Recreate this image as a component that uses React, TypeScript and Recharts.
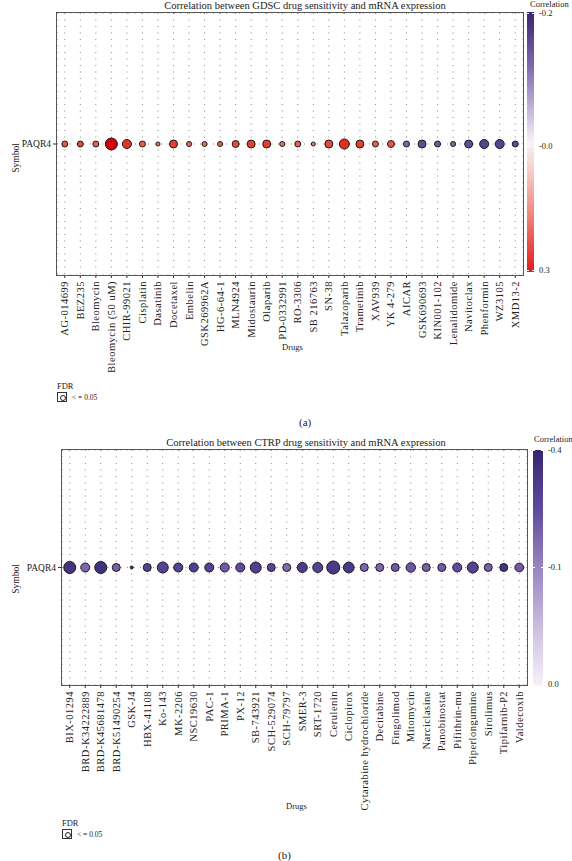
import React from 'react';
import { ScatterChart, Scatter, XAxis, YAxis, ZAxis, CartesianGrid, Cell } from 'recharts';

const gene = 'PAQR4';

// GDSC panel
const gdscDrugs = [
  'AG-014699', 'BEZ235', 'Bleomycin', 'Bleomycin (50 uM)', 'CHIR-99021', 'Cisplatin', 'Dasatinib',
  'Docetaxel', 'Embelin', 'GSK269962A', 'HG-6-64-1', 'MLN4924', 'Midostaurin', 'Olaparib',
  'PD-0332991', 'RO-3306', 'SB 216763', 'SN-38', 'Talazoparib', 'Trametinib', 'XAV939', 'YK 4-279',
  'AICAR', 'GSK690693', 'KIN001-102', 'Lenalidomide', 'Navitoclax', 'Phenformin', 'WZ3105', 'XMD13-2',
];
const gdscCor = [
  0.21, 0.22, 0.2, 0.3, 0.24, 0.2, 0.18, 0.23, 0.19, 0.19, 0.2, 0.22, 0.23, 0.23, 0.19,
  0.2, 0.18, 0.22, 0.25, 0.23, 0.2, 0.21, -0.14, -0.16, -0.15, -0.14, -0.16, -0.17, -0.17, -0.16,
];
const gdscLogFdr = [
  2.8, 2.8, 2.8, 11.3, 6.4, 2.8, 1.3, 5.0, 2.0, 2.0, 2.0, 3.8, 5.0, 5.0, 2.0,
  2.8, 1.3, 5.0, 7.9, 5.0, 2.8, 3.8, 2.8, 5.0, 2.8, 2.0, 5.0, 6.4, 6.4, 2.8,
];

// CTRP panel
const ctrpDrugs = [
  'BIX-01294', 'BRD-K34222889', 'BRD-K45681478', 'BRD-K51490254', 'GSK-J4', 'HBX-41108', 'Ko-143',
  'MK-2206', 'NSC19630', 'PAC-1', 'PRIMA-1', 'PX-12', 'SB-743921', 'SCH-529074', 'SCH-79797',
  'SMER-3', 'SRT-1720', 'Cerulenin', 'Ciclopirox', 'Cytarabine hydrochloride', 'Decitabine',
  'Fingolimod', 'Mitomycin', 'Narciclasine', 'Panobinostat', 'Pifithrin-mu', 'Piperlongumine',
  'Sirolimus', 'Tipifarnib-P2', 'Valdecoxib',
];
const ctrpCor = [
  -0.37, -0.26, -0.38, -0.27, -0.4, -0.33, -0.33, -0.33, -0.34, -0.33, -0.28, -0.31, -0.34, -0.32, -0.25,
  -0.35, -0.33, -0.36, -0.36, -0.26, -0.26, -0.28, -0.29, -0.27, -0.28, -0.31, -0.33, -0.27, -0.37, -0.28,
];
const ctrpLogFdr = [
  11.3, 6.4, 11.3, 5.0, 0.7, 5.0, 9.5, 6.4, 6.4, 6.4, 6.4, 6.4, 9.5, 5.0, 5.0,
  7.9, 7.9, 13.3, 9.0, 5.0, 5.0, 5.0, 7.0, 5.0, 5.0, 6.4, 9.5, 5.0, 5.0, 6.0,
];

type Stop = [number, number[]];
const hex = (h: string) => [1, 3, 5].map((i) => parseInt(h.slice(i, i + 2), 16));
const ramp = (stops: Stop[], t: number) => {
  t = Math.max(0, Math.min(1, t));
  for (let i = 1; i < stops.length; i++) {
    const [t1, c1] = stops[i];
    const [t0, c0] = stops[i - 1];
    if (t <= t1) {
      const k = (t - t0) / (t1 - t0);
      const c = c0.map((v, j) => Math.round(v + (c1[j] - v) * k));
      return `rgb(${c[0]},${c[1]},${c[2]})`;
    }
  }
  const c = stops[stops.length - 1][1];
  return `rgb(${c[0]},${c[1]},${c[2]})`;
};

const redStops: Stop[] = [[0, hex('#ffffff')], [0.5, hex('#f19a84')], [0.75, hex('#e6452f')], [1, hex('#d2000a')]];
const purpleStopsA: Stop[] = [[0, hex('#ffffff')], [0.5, hex('#b3a4d0')], [0.8, hex('#5f4d9c')], [1, hex('#3a2a76')]];
const purpleStopsB: Stop[] = [[0, hex('#f6f2f8')], [0.35, hex('#b9a7d4')], [0.6, hex('#8a70b6')], [0.8, hex('#5a4599')], [1, hex('#3a2a76')]];

const colorA = (c: number) => (c >= 0 ? ramp(redStops, c / 0.3) : ramp(purpleStopsA, -c / 0.2));
const colorB = (c: number) => ramp(purpleStopsB, -c / 0.4);

const FONT = '"Liberation Serif", serif';
const txt: React.CSSProperties = { position: 'absolute', fontFamily: FONT, color: '#222', whiteSpace: 'nowrap', lineHeight: 1 };

// palatino-ish width: slightly larger Times with a bit of tracking
const XTick = (props: any) => {
  const { x, y, payload } = props;
  return (
    <g transform={`translate(${x},${y})`}>
      <text
        x={0}
        y={0}
        dx={-2}
        dy={3.5}
        transform="rotate(-90)"
        textAnchor="end"
        fontSize={10.5}
        letterSpacing={0.5}
        fontFamily={FONT}
        fill="#222"
      >
        {payload.value}
      </text>
    </g>
  );
};

type PanelProps = {
  top: number;
  drugs: string[];
  cor: number[];
  logFdr: number[];
  color: (c: number) => string;
  plotLeft: number;
  plotRight: number;
  plotTop: number;
  plotHeight: number;
  xAxisHeight: number;
};

const DotPanel = ({ top, drugs, cor, logFdr, color, plotLeft, plotRight, plotTop, plotHeight, xAxisHeight }: PanelProps) => {
  const rows = drugs.map((d, i) => ({ drug: d, symbol: gene, cor: cor[i], fdr: logFdr[i] }));
  const height = plotTop + plotHeight + xAxisHeight;
  return (
    <div style={{ position: 'absolute', left: 0, top, width: 572, height }}>
      <ScatterChart
        width={572}
        height={height}
        style={{ overflow: 'visible' }}
        margin={{ top: plotTop, right: 572 - plotRight, bottom: 0, left: 0 }}
      >
        <CartesianGrid stroke="#8a8a8a" strokeDasharray="1 5.5" />
        <XAxis
          type="category"
          dataKey="drug"
          allowDuplicatedCategory={false}
          interval={0}
          height={xAxisHeight}
          axisLine={false}
          tickSize={3}
          tickMargin={1}
          tickLine={{ stroke: '#333' }}
          tick={<XTick />}
        />
        <YAxis
          type="category"
          dataKey="symbol"
          allowDuplicatedCategory={false}
          width={plotLeft}
          axisLine={false}
          tickSize={4}
          tickLine={{ stroke: '#333' }}
          tick={{ fontSize: 9.5, fontFamily: FONT, fill: '#222' }}
        />
        <ZAxis type="number" dataKey="fdr" domain={[0, 14]} range={[0, 140]} />
        <Scatter data={rows} stroke="#1a1a1a" strokeWidth={1} isAnimationActive={false}>
          {rows.map((r, i) => (
            <Cell key={i} fill={color(r.cor)} />
          ))}
        </Scatter>
      </ScatterChart>
      <div
        style={{
          position: 'absolute',
          left: plotLeft - 1,
          top: plotTop - 1,
          width: plotRight - plotLeft,
          height: plotHeight,
          border: '1.5px solid #555',
          boxSizing: 'content-box',
        }}
      />
    </div>
  );
};

const ColorBar = ({ left, top, width, height, gradient, labels }: any) => (
  <>
    <div style={{ position: 'absolute', left, top, width, height, background: gradient }} />
    {labels.map((l: any) => (
      <React.Fragment key={l.text}>
        <div style={{ position: 'absolute', left, top: l.y, width: 2, height: 1, background: '#fff' }} />
        <div style={{ position: 'absolute', left: left + width - 2, top: l.y, width: 2, height: 1, background: '#fff' }} />
        <div style={{ ...txt, left: left + width + 5, top: l.y - 4, fontSize: 8.5 }}>{l.text}</div>
      </React.Fragment>
    ))}
  </>
);

const FdrLegend = ({ left, top }: { left: number; top: number }) => (
  <>
    <div style={{ ...txt, left, top, fontSize: 8.5 }}>FDR</div>
    <div style={{ position: 'absolute', left, top: top + 10, width: 10, height: 10, border: '1px solid #333', boxSizing: 'border-box' }}>
      <div style={{ position: 'absolute', left: 2, top: 2, width: 4, height: 4, borderRadius: '50%', border: '1px solid #222' }} />
    </div>
    <div style={{ ...txt, left: left + 15, top: top + 12, fontSize: 7.5 }}>{'< = 0.05'}</div>
  </>
);

export default function App() {
  return (
    <div style={{ position: 'absolute', left: 0, top: 0, width: 572, height: 861, background: '#fff', overflow: 'hidden' }}>
      {/* (a) GDSC */}
      <div style={{ ...txt, left: 0, width: 610, textAlign: 'center', top: 1, fontSize: 10.5 }}>
        Correlation between GDSC drug sensitivity and mRNA expression
      </div>
      <DotPanel
        top={0}
        drugs={gdscDrugs}
        cor={gdscCor}
        logFdr={gdscLogFdr}
        color={colorA}
        plotLeft={57}
        plotRight={523}
        plotTop={13}
        plotHeight={262}
        xAxisHeight={100}
      />
      <div style={{ ...txt, left: 2, top: 146, fontSize: 9.5, transform: 'translate(0,-50%) rotate(-90deg)', transformOrigin: 'center' }}>
        <span style={{ display: 'inline-block', transform: 'translateX(-12px)' }}>Symbol</span>
      </div>
      <div style={{ ...txt, left: 282, top: 343, fontSize: 8.5 }}>Drugs</div>
      <FdrLegend left={57} top={382} />
      <div style={{ ...txt, left: 299, top: 417, fontSize: 11 }}>(a)</div>
      <div style={{ ...txt, left: 530, top: 0, fontSize: 8.5 }}>Correlation</div>
      <ColorBar
        left={527}
        top={12}
        width={7}
        height={260}
        gradient="linear-gradient(to bottom, #35266f 0%, #7a66ad 20%, #cdc2e0 40%, #f7f2f6 50%, #f6c9c6 62%, #ee7d72 80%, #e31a1c 100%)"
        labels={[
          { text: '-0.2', y: 13 },
          { text: '-0.0', y: 146 },
          { text: '0.3', y: 270 },
        ]}
      />

      {/* (b) CTRP */}
      <div style={{ ...txt, left: 0, width: 612, textAlign: 'center', top: 438, fontSize: 10.5 }}>
        Correlation between CTRP drug sensitivity and mRNA expression
      </div>
      <DotPanel
        top={437}
        drugs={ctrpDrugs}
        cor={ctrpCor}
        logFdr={ctrpLogFdr}
        color={colorB}
        plotLeft={62}
        plotRight={527}
        plotTop={13}
        plotHeight={235}
        xAxisHeight={140}
      />
      <div style={{ ...txt, left: 2, top: 567, fontSize: 9.5, transform: 'translate(0,-50%) rotate(-90deg)', transformOrigin: 'center' }}>
        <span style={{ display: 'inline-block', transform: 'translateX(-12px)' }}>Symbol</span>
      </div>
      <div style={{ ...txt, left: 286, top: 802, fontSize: 8.5 }}>Drugs</div>
      <FdrLegend left={62} top={819} />
      <div style={{ ...txt, left: 278, top: 850, fontSize: 11 }}>(b)</div>
      <div style={{ ...txt, left: 534, top: 435, fontSize: 8.5 }}>Correlation</div>
      <ColorBar
        left={533}
        top={450}
        width={10}
        height={236}
        gradient="linear-gradient(to bottom, #35266f 0%, #5f4b9c 25%, #9a85c0 50%, #cbbde0 75%, #f7f3f9 100%)"
        labels={[
          { text: '-0.4', y: 450 },
          { text: '-0.1', y: 567 },
          { text: '0.0', y: 684 },
        ]}
      />
    </div>
  );
}
